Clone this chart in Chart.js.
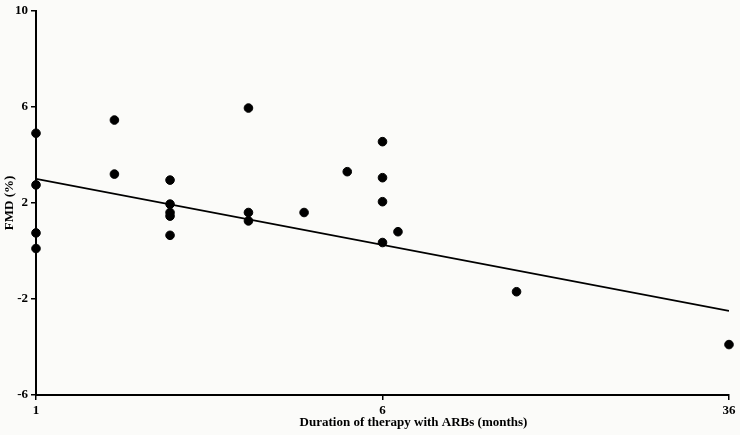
<!DOCTYPE html>
<html>
<head>
<meta charset="utf-8">
<script src="https://cdn.jsdelivr.net/npm/chart.js@4/dist/chart.umd.min.js"></script>
<style>
  html, body { margin: 0; padding: 0; background: #fbfbf9; }
  #wrap { width: 740px; height: 435px; position: relative; }
</style>
</head>
<body>
<div id="wrap"><canvas id="chart"></canvas></div>
<script>
// Duration of therapy (months) and FMD (%) per patient
const months = [1, 1, 1, 1, 1.5, 1.5, 2, 2, 2, 2, 2, 3, 3, 3, 4, 5, 6, 6, 6, 6, 6.5, 12, 36];
const fmd = [4.9, 2.75, 0.75, 0.1, 5.45, 3.2, 2.95, 1.95, 1.6, 1.45, 0.65, 5.95, 1.6, 1.25, 1.6, 3.3, 4.55, 3.05, 2.05, 0.35, 0.8, -1.7, -3.9];
const fitX = [1, 36];
const fitY = [3.0, -2.5];
const xTicks = [1, 6, 36];
const yMin = -6, yMax = 10, yStep = 4;

const serif = "'Liberation Serif', 'Times New Roman', serif";
const ink = "#000000";

const xTitlePlugin = {
  id: "xTitle",
  afterDraw(chart) {
    const ctx = chart.ctx;
    const area = chart.chartArea;
    ctx.save();
    ctx.font = "bold 13px " + serif;
    ctx.fillStyle = ink;
    ctx.textAlign = "center";
    ctx.textBaseline = "middle";
    ctx.fillText("Duration of therapy with ARBs (months)", (area.left + area.right) / 2 + 31, 423);
    ctx.restore();
  }
};

new Chart(document.getElementById("chart"), {
  type: "scatter",
  data: {
    datasets: [
      {
        label: "FMD",
        data: months.map((m, i) => ({ x: m, y: fmd[i] })),
        backgroundColor: ink,
        borderColor: ink,
        pointRadius: 4.3,
        pointHoverRadius: 4.3,
        clip: false
      },
      {
        label: "fit",
        type: "line",
        data: fitX.map((m, i) => ({ x: m, y: fitY[i] })),
        borderColor: ink,
        borderWidth: 1.8,
        pointRadius: 0,
        fill: false
      }
    ]
  },
  options: {
    responsive: true,
    maintainAspectRatio: false,
    animation: false,
    layout: { padding: { top: 8, right: 11, left: 2, bottom: 0 } },
    plugins: { legend: { display: false }, tooltip: { enabled: false } },
    scales: {
      x: {
        type: "logarithmic",
        min: 1,
        max: 36,
        afterBuildTicks: (s) => { s.ticks = xTicks.map(v => ({ value: v })); },
        afterFit: (s) => { s.height = 40; },
        grid: { display: true, drawOnChartArea: false, drawTicks: true, tickLength: 5, color: ink, lineWidth: 1.5 },
        border: { display: true, color: ink, width: 2 },
        ticks: {
          color: ink,
          font: { family: serif, size: 13, weight: "bold" },
          padding: 3,
          maxRotation: 0,
          autoSkip: false,
          callback: (v) => String(v)
        },
        title: { display: false }
      },
      y: {
        min: yMin,
        max: yMax,
        afterFit: (s) => { s.width = 34; },
        grid: { display: true, drawOnChartArea: false, drawTicks: true, tickLength: 5, color: ink, lineWidth: 1.5 },
        border: { display: true, color: ink, width: 2 },
        ticks: {
          stepSize: yStep,
          color: ink,
          font: { family: serif, size: 13, weight: "bold" },
          padding: 3
        },
        title: {
          display: true,
          text: "FMD (%)",
          color: ink,
          font: { family: serif, size: 13, weight: "bold" },
          padding: { top: 0, bottom: 0 }
        }
      }
    }
  },
  plugins: [xTitlePlugin]
});
</script>
</body>
</html>
